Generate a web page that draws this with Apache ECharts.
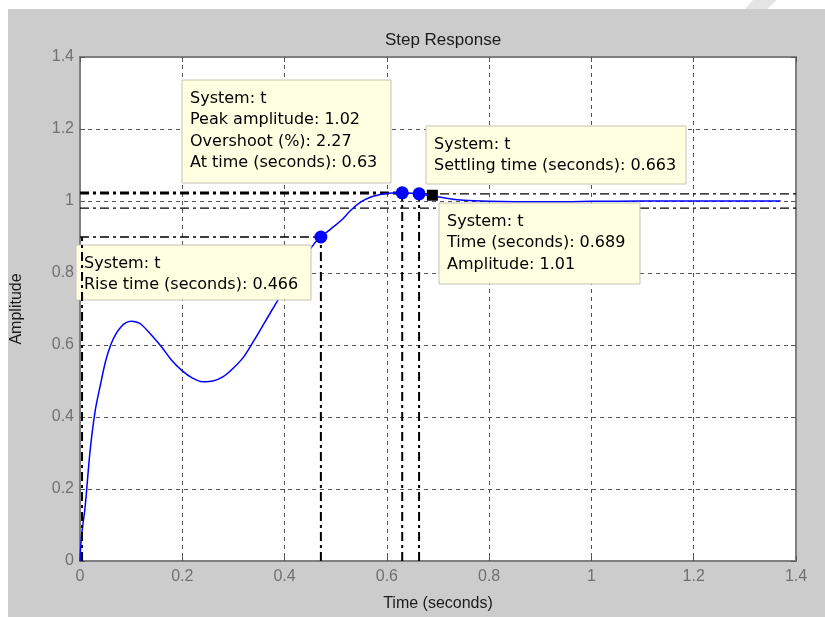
<!DOCTYPE html>
<html>
<head>
<meta charset="utf-8">
<script src="https://cdn.jsdelivr.net/npm/echarts@6/dist/echarts.min.js"></script>
<style>
html,body{margin:0;padding:0;background:#fff;}
#chart{width:825px;height:617px;}
</style>
</head>
<body>
<div id="chart"></div>
<script>
// ---- data ----
const timeData = [0, 0.003, 0.01, 0.02, 0.03, 0.04, 0.05, 0.06, 0.07, 0.08, 0.09, 0.1, 0.11, 0.12, 0.14, 0.16, 0.18, 0.2, 0.22, 0.24, 0.26, 0.28, 0.3, 0.32, 0.34, 0.36, 0.38, 0.4, 0.42, 0.44, 0.46, 0.471, 0.49, 0.51, 0.53, 0.55, 0.57, 0.59, 0.61, 0.63, 0.65, 0.663, 0.689, 0.72, 0.75, 0.8, 0.85, 0.9, 0.95, 1.0, 1.1, 1.2, 1.3, 1.37];
const ampData  = [0, 0.07, 0.15, 0.31, 0.42, 0.49, 0.555, 0.6, 0.63, 0.65, 0.662, 0.666, 0.664, 0.657, 0.627, 0.594, 0.556, 0.528, 0.508, 0.498, 0.5, 0.512, 0.536, 0.567, 0.612, 0.66, 0.708, 0.755, 0.8, 0.845, 0.885, 0.9, 0.922, 0.945, 0.975, 0.998, 1.012, 1.019, 1.0222, 1.0227, 1.0215, 1.02, 1.014, 1.007, 1.002, 0.999, 0.998, 0.998, 0.998, 0.999, 1.0, 1.0, 1.0, 1.0];
const xTickLabels = ['0', '0.2', '0.4', '0.6', '0.8', '1', '1.2', '1.4'];
const yTickLabels = ['0', '0.2', '0.4', '0.6', '0.8', '1', '1.2', '1.4'];
const peakTime = 0.63, peakAmp = 1.0227;
const riseStart = 0.004, riseEnd = 0.471, riseLevel = 0.9;
const settleTime = 0.663, settleAmp = 1.02;
const bandLow = 0.98, bandHigh = 1.02;
const tipTime = 0.689, tipAmp = 1.016;
const tMax = 1.4;
const titleText = 'Step Response';
const xName = 'Time (seconds)';
const yName = 'Amplitude';
const tipPeak = ['System: t', 'Peak amplitude: 1.02', 'Overshoot (%): 2.27', 'At time (seconds): 0.63'];
const tipSettle = ['System: t', 'Settling time (seconds): 0.663'];
const tipPoint = ['System: t', 'Time (seconds): 0.689', 'Amplitude: 1.01'];
const tipRise = ['System: t', 'Rise time (seconds): 0.466'];

// ---- chart ----
const chart = echarts.init(document.getElementById('chart'), null, {renderer: 'canvas'});
const FONT = 'Liberation Sans';
const TIPFONT = 'DejaVu Sans';
const gridColor = '#555';
const dashDot = [9, 4, 3, 4];

function fmt(list) {
  return function (v) {
    const i = Math.round(v / 0.2);
    return list[i] !== undefined ? list[i] : '';
  };
}
function refLine(pts, width, z) {
  return {
    type: 'line', data: pts, symbol: 'none', silent: true, z: z || 3,
    lineStyle: {color: '#000', width: width, type: dashDot},
    animation: false
  };
}
function tipBox(x, y, w, h, lines) {
  return {
    type: 'group', z: 50,
    children: [
      {type: 'rect', z: 50, shape: {x: x, y: y, width: w, height: h},
       style: {fill: '#ffffe1', stroke: '#c4c4b4', lineWidth: 1}},
      {type: 'text', z: 51, x: x + 8, y: y + 8,
       style: {text: lines.join('\n'), fill: '#000', font: '16px "' + TIPFONT + '"', lineHeight: 21.5}}
    ]
  };
}
const axisCommon = {
  type: 'value', min: 0, max: tMax, interval: 0.2
};
const option = {
  animation: false,
  backgroundColor: '#fff',
  title: {
    text: titleText, left: 438, top: 27, textAlign: 'center',
    textStyle: {fontFamily: FONT, fontSize: 17, fontWeight: 'normal', color: '#1a1a1a'}
  },
  grid: {left: 80, top: 57, right: 29, bottom: 55, show: true, backgroundColor: '#fff', borderWidth: 0},
  xAxis: [
    Object.assign({}, axisCommon, {
      position: 'bottom', name: xName, nameLocation: 'middle', nameGap: 35,
      nameTextStyle: {fontFamily: FONT, fontSize: 16, color: '#1a1a1a'},
      axisLine: {show: true, onZero: false, lineStyle: {color: '#7f7f7f', width: 2}},
      axisTick: {show: true, inside: true, length: 5, lineStyle: {color: '#555'}},
      axisLabel: {formatter: fmt(xTickLabels), fontFamily: FONT, fontSize: 16, color: '#707070', margin: 8},
      splitLine: {show: true, lineStyle: {color: gridColor, type: [4, 4], width: 1}}
    }),
    Object.assign({}, axisCommon, {
      position: 'top',
      axisLine: {show: true, onZero: false, lineStyle: {color: '#7f7f7f', width: 2}},
      axisTick: {show: true, inside: true, length: 5, lineStyle: {color: '#555'}},
      axisLabel: {show: false}, splitLine: {show: false}
    })
  ],
  yAxis: [
    Object.assign({}, axisCommon, {
      position: 'left', name: yName, nameLocation: 'middle', nameGap: 55, nameRotate: 90,
      nameTextStyle: {fontFamily: FONT, fontSize: 16, color: '#1a1a1a'},
      axisLine: {show: true, onZero: false, lineStyle: {color: '#7f7f7f', width: 2}},
      axisTick: {show: true, inside: true, length: 5, lineStyle: {color: '#555'}},
      axisLabel: {formatter: fmt(yTickLabels), fontFamily: FONT, fontSize: 16, color: '#707070', margin: 6},
      splitLine: {show: true, lineStyle: {color: gridColor, type: [4, 4], width: 1}}
    }),
    Object.assign({}, axisCommon, {
      position: 'right',
      axisLine: {show: true, onZero: false, lineStyle: {color: '#7f7f7f', width: 2}},
      axisTick: {show: true, inside: true, length: 5, lineStyle: {color: '#555'}},
      axisLabel: {show: false}, splitLine: {show: false}
    })
  ],
  series: [
    {
      type: 'line', name: 'response', smooth: 0.3, symbol: 'none', z: 4,
      data: timeData.map((t, i) => [t, ampData[i]]),
      lineStyle: {color: '#0000ff', width: 1.5}
    },
    refLine([[0, bandHigh], [tMax, bandHigh]], 1.2),
    refLine([[0, bandLow], [tMax, bandLow]], 1.2),
    refLine([[0, peakAmp], [peakTime, peakAmp]], 2.5),
    refLine([[peakTime, 0], [peakTime, peakAmp]], 2),
    refLine([[settleTime, 0], [settleTime, settleAmp]], 2),
    refLine([[0, riseLevel], [riseEnd, riseLevel]], 1.5),
    refLine([[riseEnd, 0], [riseEnd, riseLevel]], 2),
    refLine([[riseStart, 0], [riseStart, riseLevel]], 2, 60),
    {
      type: 'scatter', symbol: 'circle', symbolSize: 13, z: 6,
      itemStyle: {color: '#0000ff', opacity: 1},
      data: [[riseEnd, riseLevel], [peakTime, peakAmp], [settleTime, settleAmp]]
    },
    {
      type: 'scatter', symbol: 'rect', symbolSize: 11, z: 6,
      itemStyle: {color: '#000', opacity: 1},
      data: [[tipTime, tipAmp]]
    }
  ],
  graphic: [
    {type: 'rect', z: -10, shape: {x: 8, y: 9, width: 817, height: 608}, style: {fill: '#cccccc'}},
    {type: 'polygon', z: -9, shape: {points: [[745, 9], [753, 0], [777, 0], [767, 9]]}, style: {fill: '#e4e4e4'}},
    tipBox(182, 80, 209, 103, tipPeak),
    tipBox(426, 126, 260, 58, tipSettle),
    tipBox(439, 203, 201, 81, tipPoint),
    tipBox(76, 245, 235, 55, tipRise)
  ]
};
chart.setOption(option);
</script>
</body>
</html>
